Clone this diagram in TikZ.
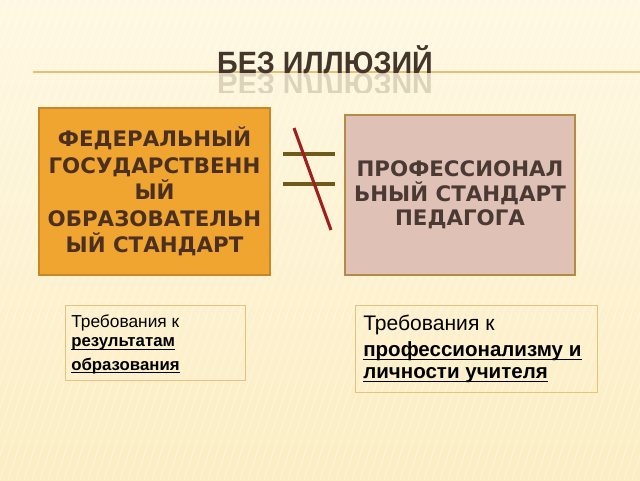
\documentclass[tikz,border=0pt]{standalone}
\usepackage{fontspec}
\setmainfont{Liberation Sans}
\newfontfamily\djb{DejaVu Sans}[BoldFont={DejaVu Sans Bold}]
\definecolor{bgtop}{HTML}{FEF8E2}
\definecolor{bgbot}{HTML}{FCEDC2}
\definecolor{titlec}{HTML}{45362C}
\definecolor{orfill}{HTML}{F0A530}
\definecolor{ordraw}{HTML}{C8862A}
\definecolor{pkfill}{HTML}{DFC1B5}
\definecolor{pkdraw}{HTML}{B48C48}
\definecolor{txtA}{HTML}{4B2F20}
\definecolor{txtB}{HTML}{4A3A33}
\definecolor{reqdraw}{HTML}{E6C27E}
\definecolor{olive}{HTML}{6F5A1A}
\definecolor{redl}{HTML}{A01E1E}
\definecolor{rule}{HTML}{E3B25E}
\definecolor{reflc}{HTML}{DDD2BA}
\begin{document}
\begin{tikzpicture}[x=0.75pt,y=-0.75pt,
  bigbox/.style={rectangle, line width=1.5pt, inner sep=0pt, minimum width=173pt, align=center,
    font=\djb\bfseries\fontsize{16}{19.8}\selectfont},
  reqbox/.style={rectangle, draw=reqdraw, line width=0.6pt, inner sep=0pt},
  reqtxt/.style={anchor=base west, inner sep=0pt},
  ulstyle/.style={line width=0.9pt},
  neq/.style={line width=2.3pt}]
\useasboundingbox (0,0) rectangle (640,480);
% background
\fill[top color=bgtop, bottom color=bgbot] (0,0) rectangle (640,480);
\begin{scope}
\clip (0,0) rectangle (640,480);
\foreach \i in {-480,-472,...,640} {
  \draw[white, opacity=0.25, line width=1.2pt] (\i,480) -- (\i+160,0);
}
\end{scope}
% title rule
\draw[rule, line width=0.9pt, opacity=0.8] (33,72) -- (640,72);
% title
\begin{scope}
\clip (0,73) rectangle (640,92);
\node[anchor=base, inner sep=0pt, text=reflc, font=\bfseries\fontsize{22}{26}\selectfont, xscale=0.98, yscale=-1.05]
  (titlerefl) at (325,73) {БЕЗ ИЛЛЮЗИЙ};
\end{scope}
\node[anchor=base, inner sep=0pt, text=titlec, font=\bfseries\fontsize{22}{26}\selectfont, xscale=0.98, yscale=1.05]
  (title) at (325,73) {БЕЗ ИЛЛЮЗИЙ};
% boxes
\node[bigbox, fill=orfill, draw=ordraw, minimum height=125pt, text=txtA] (fgos) at (154.5,191.5)
  {ФЕДЕРАЛЬНЫЙ\\ГОСУДАРСТВЕНН\\ЫЙ\\ОБРАЗОВАТЕЛЬН\\ЫЙ СТАНДАРТ};
\node[bigbox, fill=pkfill, draw=pkdraw, minimum height=120pt, text=txtB,
  font=\djb\bfseries\fontsize{16}{18.4}\selectfont] (ps) at (460,195)
  {ПРОФЕССИОНАЛ\\ЬНЫЙ СТАНДАРТ\\ПЕДАГОГА};
% not-equal sign
\coordinate (h1a) at (283,154); \coordinate (h1b) at (335,154);
\coordinate (h2a) at (283,184); \coordinate (h2b) at (335,184);
\coordinate (sa) at (294,128); \coordinate (sb) at (331,230);
\draw[neq, olive] (h1a) -- (h1b);
\draw[neq, olive] (h2a) -- (h2b);
\draw[neq, redl] (sa) -- (sb);
% requirement boxes
\node[reqbox, minimum width=135pt, minimum height=56.25pt] (req1) at (155,342.5) {};
\node[reqbox, minimum width=181.5pt, minimum height=65.25pt] (req2) at (476,348.5) {};
\node[reqtxt, font=\fontsize{13}{15}\selectfont] (r1a) at (71,327) {Требования к};
\node[reqtxt, font=\bfseries\fontsize{12.6}{15}\selectfont] (r1b) at (71,346.5) {результатам};
\node[reqtxt, font=\bfseries\fontsize{12.6}{15}\selectfont] (r1c) at (71,370) {образования};
\node[reqtxt, font=\fontsize{15.8}{18}\selectfont] (r2a) at (363,330) {Требования к};
\node[reqtxt, font=\bfseries\fontsize{15.4}{18}\selectfont] (r2b) at (363,356.5) {профессионализму и};
\node[reqtxt, font=\bfseries\fontsize{15.4}{18}\selectfont] (r2c) at (363,378.5) {личности учителя};
\foreach \n in {r1b,r1c,r2b,r2c} {
  \draw[ulstyle] ([yshift=-2pt]\n.base west) -- ([yshift=-2pt]\n.base east);
}
\end{tikzpicture}
\end{document}
